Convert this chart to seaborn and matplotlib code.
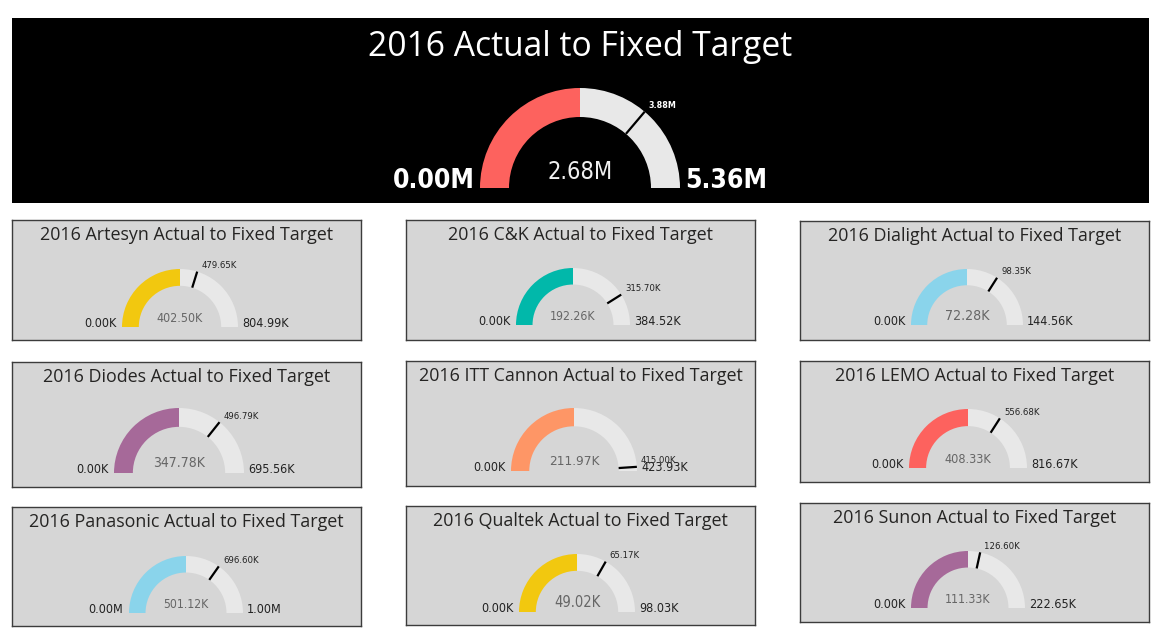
import numpy as np
import matplotlib.pyplot as plt
import seaborn as sns

# Valeurs (en milliers)
brands = ['Artesyn', 'C&K', 'Dialight', 'Diodes', 'ITT Cannon', 'LEMO',
          'Panasonic', 'Qualtek', 'Sunon']
actual = [402.50, 192.26, 72.28, 347.78, 211.97, 408.33, 501.12, 49.02, 111.33]
maximum = [804.99, 384.52, 144.56, 695.56, 423.93, 816.67, 1002.24, 98.03, 222.65]
target = [479.65, 315.70, 98.35, 496.79, 415.00, 556.68, 696.60, 65.17, 126.60]
colors = ['#F2C80F', '#01B8AA', '#8AD4EB', '#A66999', '#FE9666', '#FD625E',
          '#8AD4EB', '#F2C80F', '#A66999']

total_actual = 2680.0
total_max = 5360.0
total_target = 3880.0
total_color = '#FD625E'

# Mise en page (pixels, origine en haut a gauche)
W, H = 1166, 641
top_box = (12, 18, 1149, 203)
top_gauge = (580, 188, 100)
boxes = [(12, 220, 361, 340), (406, 220, 755, 340), (800, 221, 1149, 340),
         (12, 362, 361, 487), (406, 361, 755, 486), (800, 361, 1149, 482),
         (12, 507, 361, 626), (406, 506, 755, 625), (800, 503, 1149, 622)]
gauges = [(180, 327, 58), (573, 325, 57), (967, 325, 56),
          (179, 473, 65), (574, 471, 63), (968, 468, 59),
          (186, 613, 57), (577, 612, 58), (968, 608, 57)]

INNER = 0.71
ARC_BG = '#E8E8E8'
PANEL_BG = '#D6D6D6'
NUM_FONT = ['DejaVu Sans']

sns.set_theme(style='white')
plt.rcParams['font.family'] = ['Open Sans', 'DejaVu Sans']

fig = plt.figure(figsize=(W / 100, H / 100), dpi=100)
fig.patch.set_facecolor('white')
renderer = fig.canvas.get_renderer()


def px_axes(x0, y0, x1, y1):
    return fig.add_axes([x0 / W, 1 - y1 / H, (x1 - x0) / W, (y1 - y0) / H])


def fmt(v, ref=None):
    ref = v if ref is None else ref
    if ref >= 1000:
        return f'{v / 1000:.2f}M'
    return f'{v:.2f}K'


def panel(box, title, bg, fc, size, title_dy, border):
    ax = px_axes(*box)
    ax.set_facecolor(bg)
    ax.set_xticks([])
    ax.set_yticks([])
    for sp in ax.spines.values():
        sp.set_visible(border)
        sp.set_color('#3C3C3C')
        sp.set_linewidth(1)
    h = box[3] - box[1]
    ax.text(0.5, 1 - title_dy / h, title, transform=ax.transAxes,
            ha='center', va='center', fontsize=size, color=fc)
    return ax


def gauge(g, value, vmax, tgt, color, dark, big):
    cx, base, R = g
    ax = px_axes(cx - R, base - R, cx + R, base)
    ax.pie([value, vmax - value, vmax], colors=[color, ARC_BG, 'none'],
           startangle=180, counterclock=False, radius=1,
           wedgeprops=dict(width=1 - INNER, linewidth=0))
    ax.set_xlim(-1, 1)
    ax.set_ylim(0, 1)
    ax.set_aspect('auto')
    ax.axis('off')

    # marqueur de cible
    a = np.pi * (1 - tgt / vmax)
    ax.plot([INNER * np.cos(a), np.cos(a)], [INNER * np.sin(a), np.sin(a)],
            color='black', lw=1.6, solid_capstyle='butt', clip_on=False)
    ax.annotate(fmt(tgt), (np.cos(a), np.sin(a)), xytext=(3, 1),
                textcoords='offset points', ha='left', va='bottom',
                family=NUM_FONT, fontstretch='condensed',
                fontsize=6.4 if big else 6.8,
                color='white' if dark else '#222222',
                fontweight='bold' if big else 'normal')

    # min / max
    lab_kw = dict(va='baseline', family=NUM_FONT, fontstretch='condensed',
                  fontsize=19 if big else 9,
                  fontweight='bold' if big else 'normal',
                  color='white' if dark else '#222222')
    ax.annotate(fmt(0, vmax), (-1, 0), xytext=(-4, 0),
                textcoords='offset points', ha='right', **lab_kw)
    ax.annotate(fmt(vmax), (1, 0), xytext=(4 if big else 3, 0),
                textcoords='offset points', ha='left', **lab_kw)

    # valeur centrale, ajustee a la largeur interieure
    t = ax.text(0, 0.09, fmt(value), ha='center', va='baseline',
                family=NUM_FONT, fontstretch='condensed', fontsize=10,
                color='#F0F0F0' if dark else '#666666')
    w = t.get_window_extent(renderer).width
    frac = 0.92 if big else 1.12
    t.set_fontsize(10 * frac * INNER * R / w)


panel(top_box, '2016 Actual to Fixed Target', 'black', 'white', 24.2, 29, False)
gauge(top_gauge, total_actual, total_max, total_target, total_color, True, True)

for i, name in enumerate(brands):
    panel(boxes[i], f'2016 {name} Actual to Fixed Target', PANEL_BG,
          '#252423', 12.9, 15, True)
    gauge(gauges[i], actual[i], maximum[i], target[i], colors[i], False, False)

fig.savefig('out.png', dpi=100, facecolor=fig.get_facecolor())
